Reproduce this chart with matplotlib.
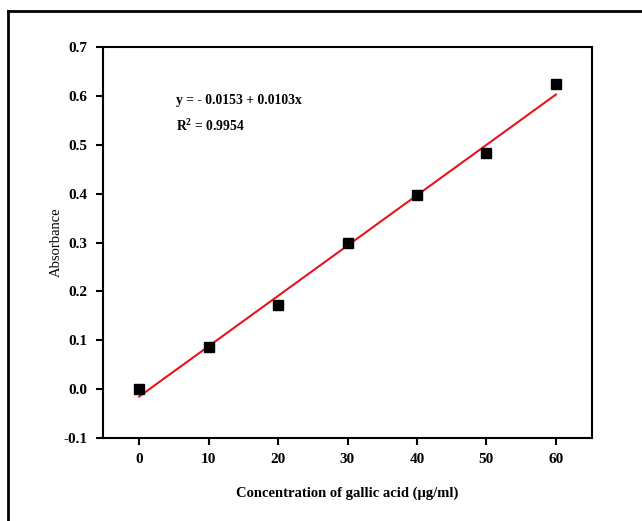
import matplotlib
matplotlib.use("Agg")
import matplotlib.pyplot as plt
from matplotlib.lines import Line2D
import numpy as np

plt.rcParams['font.family'] = ['Liberation Serif', 'DejaVu Serif']
plt.rcParams['mathtext.fontset'] = 'custom'
plt.rcParams['mathtext.rm'] = 'Liberation Serif'
plt.rcParams['mathtext.bf'] = 'Liberation Serif:bold'

conc = [0, 10, 20, 30, 40, 50, 60]
absorb = [0.000, 0.087, 0.172, 0.298, 0.398, 0.483, 0.625]
intercept = -0.0153
slope = 0.0103
r2 = 0.9954
xticks = [0, 10, 20, 30, 40, 50, 60]
yticks = [-0.1, 0.0, 0.1, 0.2, 0.3, 0.4, 0.5, 0.6, 0.7]

fig = plt.figure(figsize=(6.42, 5.21), dpi=100)
ax = fig.add_axes([103/642, 1-438/521, (592-103)/642, (438-47)/521])

xf = np.array([conc[0], conc[-1]])
ax.plot(xf, intercept + slope*xf, color='#e8141c', lw=1.5, zorder=2)
ax.plot(conc, absorb, ls='none', marker='s', ms=6.5, color='black', zorder=3)

ax.set_xlim(-5.2, 65.2)
ax.set_ylim(-0.1, 0.7)
ax.set_xticks(xticks)
ax.set_xticklabels([str(v) for v in xticks])
ax.set_yticks(yticks)
ax.set_yticklabels([f"{v:.1f}" for v in yticks])
for s in ax.spines.values():
    s.set_linewidth(1.5)
ax.tick_params(direction='out', length=5, width=1.5, labelsize=11, pad=6)
for lab in ax.get_xticklabels() + ax.get_yticklabels():
    lab.set_fontweight('bold')

ax.set_xlabel('Concentration of gallic acid (\u03bcg/ml)', fontsize=10.5, fontweight='bold')
ax.set_ylabel('Absorbance', fontsize=10.5, fontweight='normal')
ax.xaxis.set_label_coords(0.5, -0.123)
ax.yaxis.set_label_coords(-0.083, 0.5)

ax.text(0.149, 0.864, f'y = - {abs(intercept):.4f} + {slope:.4f}x', transform=ax.transAxes,
        fontsize=9.8, fontweight='bold', va='center', ha='left')
ax.text(0.149, 0.798, f'R$^{{\\mathbf{{2}}}}$ = {r2:.4f}', transform=ax.transAxes,
        fontsize=9.8, fontweight='bold', va='center', ha='left')

# outer frame (left and top only visible)
fig.add_artist(Line2D([8/642, 8/642], [0, 1-11/521], transform=fig.transFigure, color='black', lw=2.0))
fig.add_artist(Line2D([8/642, 1], [1-11/521, 1-11/521], transform=fig.transFigure, color='black', lw=2.0))

fig.savefig('out.png', dpi=100)
